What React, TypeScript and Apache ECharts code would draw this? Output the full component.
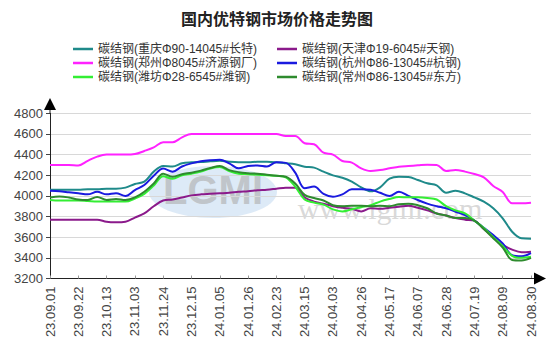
import React, { useEffect, useRef } from "react";
import * as echarts from "echarts";

const dates = [
  "23.09.01", "23.09.08", "23.09.15", "23.09.22", "23.09.28", "23.10.06", "23.10.13", "23.10.20", "23.10.27",
  "23.11.03", "23.11.10", "23.11.17", "23.11.24", "23.12.01", "23.12.08", "23.12.15", "23.12.22", "23.12.29",
  "24.01.05", "24.01.12", "24.01.19", "24.01.26", "24.02.02", "24.02.08", "24.02.23", "24.03.01", "24.03.08",
  "24.03.15", "24.03.22", "24.03.28", "24.04.03", "24.04.12", "24.04.19", "24.04.26", "24.05.07", "24.05.10",
  "24.05.17", "24.05.24", "24.05.31", "24.06.07", "24.06.14", "24.06.21", "24.06.28", "24.07.05", "24.07.12",
  "24.07.19", "24.07.26", "24.08.02", "24.08.09", "24.08.16", "24.08.23", "24.08.30",
];

const names = [
  "碳结钢(重庆Φ90-14045#长特)",
  "碳结钢(天津Φ19-6045#天钢)",
  "碳结钢(郑州Φ8045#济源钢厂)",
  "碳结钢(杭州Φ86-13045#杭钢)",
  "碳结钢(潍坊Φ28-6545#潍钢)",
  "碳结钢(常州Φ86-13045#东方)",
];

const chongqing = [
  4060, 4060, 4060, 4060, 4065, 4065, 4070, 4070, 4080, 4115, 4138, 4235, 4290, 4285, 4316, 4325, 4328, 4335,
  4340, 4330, 4325, 4325, 4330, 4330, 4325, 4316, 4306, 4283, 4274, 4235, 4199, 4176, 4138, 4083, 4044, 4083,
  4167, 4186, 4183, 4154, 4122, 4102, 4031, 4050, 4025, 3986, 3944, 3880, 3783, 3653, 3589, 3585,
];
const tianjin = [
  3770, 3770, 3770, 3770, 3770, 3770, 3750, 3745, 3750, 3790, 3830, 3900, 3955, 3965, 3985, 4005, 4015, 4020,
  4025, 4030, 4040, 4045, 4055, 4060, 4070, 4080, 4080, 3985, 3945, 3925, 3900, 3885, 3875, 3850, 3880, 3875,
  3885, 3895, 3905, 3885, 3860, 3830, 3810, 3785, 3770, 3760, 3680, 3600, 3525, 3480, 3455, 3460,
];
const zhengzhou = [
  4300, 4300, 4300, 4295, 4340, 4380, 4400, 4400, 4400, 4405, 4435, 4470, 4520, 4520, 4567, 4600, 4600, 4600,
  4600, 4600, 4600, 4600, 4600, 4600, 4600, 4580, 4580, 4510, 4500, 4418, 4400, 4338, 4322, 4267, 4241, 4251,
  4267, 4283, 4290, 4296, 4302, 4300, 4241, 4251, 4235, 4212, 4180, 4096, 4038, 3928, 3928, 3934,
];
const hangzhou = [
  4050, 4045, 4035, 4025, 4015, 4040, 4015, 4025, 4000, 4057, 4105, 4195, 4265, 4235, 4285, 4315, 4335, 4345,
  4350, 4315, 4267, 4290, 4295, 4285, 4325, 4320, 4225, 4075, 4090, 4020, 3992, 4015, 4064, 4064, 4060, 4030,
  4000, 4040, 4000, 3960, 3925, 3900, 3880, 3847, 3815, 3760, 3690, 3620, 3540, 3425, 3415, 3445,
];
const weifang = [
  3960, 3955, 3955, 3955, 3950, 3945, 3945, 3945, 3945, 3975, 4020, 4100, 4190, 4165, 4200, 4215, 4235, 4265,
  4280, 4240, 4215, 4210, 4205, 4200, 4195, 4180, 4090, 3965, 3935, 3915, 3870, 3850, 3870, 3890, 3910, 3945,
  3970, 3990, 3986, 3986, 3980, 3965, 3900, 3860, 3830, 3760, 3690, 3600, 3515, 3420, 3400, 3410,
];
const changzhou = [
  3985, 3995, 3985, 3965, 3960, 3990, 3960, 3970, 3960, 3985, 4040, 4120, 4215, 4185, 4210, 4225, 4245, 4270,
  4290, 4250, 4230, 4220, 4215, 4205, 4195, 4185, 4120, 4010, 3980, 3955, 3910, 3900, 3905, 3905, 3900, 3905,
  3900, 3920, 3925, 3910, 3880, 3830, 3810, 3785, 3785, 3760, 3680, 3590, 3500, 3380, 3375, 3400,
];

const seriesData = [chongqing, tianjin, zhengzhou, hangzhou, weifang, changzhou];
const colors = ["#1f8a8a", "#8b1a8b", "#ff22ff", "#1a1adf", "#33ee33", "#2e8b2e"];

const CJK = "'Noto Sans CJK SC', 'Noto Sans', sans-serif";
const LAT = "'Liberation Sans', Arial, sans-serif";
const LEG = "'Liberation Sans', 'Noto Sans CJK SC', sans-serif";

export default function App() {
  const ref = useRef<HTMLDivElement>(null);
  useEffect(() => {
    if (!ref.current) return;
    const chart = echarts.init(ref.current, null, { renderer: "svg" });
    const legendCommon = {
      orient: "vertical" as const,
      top: 42,
      icon: "rect",
      itemWidth: 20,
      itemHeight: 2.5,
      itemGap: 0,
      padding: 0,
      textStyle: { fontSize: 12, fontFamily: LEG, color: "#333", lineHeight: 14 },
    };
    chart.setOption({
      animation: false,
      backgroundColor: "#fff",
      color: colors,
      title: {
        text: "国内优特钢市场价格走势图",
        left: "center",
        top: 5,
        textStyle: { fontSize: 16, fontWeight: "bold", fontFamily: CJK, color: "#222" },
      },
      legend: [
        { ...legendCommon, left: 73, data: [names[0], names[2], names[4]] },
        { ...legendCommon, left: 277, data: [names[1], names[3], names[5]] },
      ],
      grid: { left: 50, right: 23, top: 113.3, bottom: 74.5, containLabel: false },
      xAxis: {
        type: "category",
        data: dates,
        boundaryGap: false,
        axisLine: { lineStyle: { color: "#222", width: 1 } },
        axisTick: { show: true, inside: true, length: 3, interval: 2, lineStyle: { color: "#999" } },
        axisLabel: {
          interval: 2,
          rotate: 90,
          margin: 8,
          fontSize: 13,
          fontFamily: LAT,
          color: "#444",
        },
        splitLine: { show: false },
      },
      yAxis: {
        type: "value",
        min: 3200,
        max: 4800,
        interval: 200,
        axisLine: { show: true, lineStyle: { color: "#222", width: 1 } },
        axisTick: { show: true, length: 4, lineStyle: { color: "#444" } },
        axisLabel: {
          margin: 7,
          fontSize: 13,
          fontFamily: LAT,
          color: "#444",
          formatter: (v: number) => String(v),
        },
        splitLine: { show: true, lineStyle: { color: "#d8d8d8", width: 1 } },
      },
      graphic: [
        {
          type: "ellipse",
          shape: { cx: 213, cy: 192, rx: 64, ry: 26 },
          style: { fill: "#bcd6ef", opacity: 0.5 },
          z: 0,
          silent: true,
        },
        {
          type: "text",
          x: 213,
          y: 190,
          style: {
            text: "LGMI",
            fontSize: 40,
            fontWeight: "bold",
            fontFamily: LAT,
            fill: "#b0b0b0",
            align: "center",
            verticalAlign: "middle",
            opacity: 0.65,
          },
          z: 0,
          silent: true,
        },
        {
          type: "text",
          x: 390,
          y: 208,
          style: {
            text: "www.lgmi.com",
            fontSize: 30,
            fontFamily: "'Liberation Serif', serif",
            fill: "#cfcfcf",
            align: "center",
            verticalAlign: "middle",
            opacity: 0.8,
          },
          z: 0,
          silent: true,
        },
        {
          type: "line",
          shape: { x1: 50, y1: 113.5, x2: 50, y2: 108 },
          style: { stroke: "#222", lineWidth: 1 },
          z: 5,
        },
        {
          type: "polygon",
          shape: { points: [[44, 110], [56, 110], [50, 98]] },
          style: { fill: "#000" },
          z: 5,
        },
        {
          type: "line",
          shape: { x1: 531, y1: 278.5, x2: 536, y2: 278.5 },
          style: { stroke: "#222", lineWidth: 1 },
          z: 5,
        },
        {
          type: "polygon",
          shape: { points: [[534, 272.5], [534, 284.5], [546, 278.5]] },
          style: { fill: "#000" },
          z: 5,
        },
      ],
      series: names.map((n, i) => ({
        name: n,
        type: "line",
        data: seriesData[i],
        smooth: 0.35,
        showSymbol: false,
        symbol: "none",
        lineStyle: { width: 2, color: colors[i] },
        itemStyle: { color: colors[i] },
        z: 3,
      })),
    });
    return () => chart.dispose();
  }, []);
  return <div ref={ref} style={{ width: 554, height: 353, position: "absolute", left: 0, top: 0 }} />;
}
